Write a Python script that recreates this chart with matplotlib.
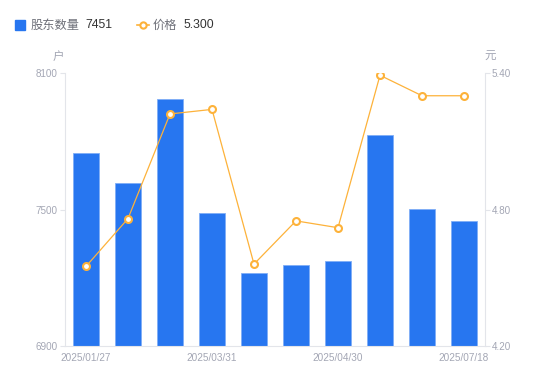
import matplotlib
matplotlib.use("Agg")
import matplotlib.pyplot as plt
from matplotlib.lines import Line2D
import numpy as np

plt.rcParams['font.family'] = ['Liberation Sans', 'Noto Sans CJK SC', 'DejaVu Sans']

categories = ["2025/01/27", "c2", "c3", "2025/03/31", "c5", "c6", "2025/04/30", "c8", "c9", "2025/07/18"]
holders = [7748, 7616, 7986, 7485, 7221, 7256, 7274, 7827, 7502, 7451]
price = [4.55, 4.76, 5.22, 5.24, 4.56, 4.75, 4.72, 5.39, 5.30, 5.30]
label_idx = [0, 3, 6, 9]
left_ticks = [6900, 7500, 8100]
right_ticks = [4.20, 4.80, 5.40]

BLUE = "#2776F0"
ORANGE = "#FDB23A"
GRAY = "#A3A6B4"
AXC = "#E3E5EA"

fig = plt.figure(figsize=(5.5, 3.81), dpi=100)
ax = fig.add_axes([65/550, 35/381, 420/550, 273/381])
ax2 = ax.twinx()

x = np.arange(len(categories))
ax.bar(x, holders, width=0.6, color=BLUE, edgecolor="#7FAEF6", linewidth=0.6, zorder=2)
ax.set_xlim(-0.5, len(categories) - 0.5)
ax.set_ylim(left_ticks[0], left_ticks[-1])
ax.set_yticks(left_ticks)
ax.set_yticklabels([str(v) for v in left_ticks])

ax2.plot(x, price, color=ORANGE, lw=0.9, marker='o', ms=5, mfc='white', mec=ORANGE, mew=1.5, zorder=3)
ax2.set_ylim(right_ticks[0], right_ticks[-1])
ax2.set_yticks(right_ticks)
ax2.set_yticklabels([f"{v:.2f}" for v in right_ticks])

ax.set_xticks(label_idx)
ax.set_xticklabels([categories[i] for i in label_idx])

for a in (ax, ax2):
    for s in a.spines.values():
        s.set_visible(False)
ax.spines['left'].set_visible(True)
ax.spines['left'].set_color(AXC)
ax.spines['bottom'].set_visible(True)
ax.spines['bottom'].set_color(AXC)
ax2.spines['right'].set_visible(True)
ax2.spines['right'].set_color(AXC)

ax.tick_params(axis='x', length=0, pad=5, labelsize=7.2, labelcolor=GRAY)
ax.tick_params(axis='y', length=3.8, color=AXC, pad=1.6, labelsize=7.1, labelcolor=GRAY)
ax2.tick_params(axis='y', length=3.8, color=AXC, pad=1.2, labelsize=7.1, labelcolor=GRAY)

# unit labels
fig.text(58/550, 1 - 57/381, "户", ha='center', va='center', fontsize=8.3, color=GRAY)
fig.text(490/550, 1 - 57/381, "元", ha='center', va='center', fontsize=8.3, color=GRAY)

# legend
ly = 1 - 25.5/381
fig.add_artist(Line2D([20/550], [1 - 24.5/381], marker='s', ms=6.5, color=BLUE, lw=0, transform=fig.transFigure))
fig.text(31/550, ly, "股东数量", ha='left', va='center', fontsize=8.8, color="#6E7079")
fig.text(85/550, ly, f"{holders[-1]}", ha='left', va='center', fontsize=8.8, color="#333333")
fig.add_artist(Line2D([137/550, 149/550], [1 - 24.5/381, 1 - 24.5/381], color=ORANGE, lw=1.2, transform=fig.transFigure))
fig.add_artist(Line2D([143/550], [1 - 24.5/381], marker='o', ms=4.5, mfc='white', mec=ORANGE, mew=1.5, lw=0, transform=fig.transFigure))
fig.text(153/550, ly, "价格", ha='left', va='center', fontsize=8.8, color="#6E7079")
fig.text(183/550, ly, f"{price[-1]:.3f}", ha='left', va='center', fontsize=8.8, color="#333333")

fig.savefig("out.png", dpi=100)
